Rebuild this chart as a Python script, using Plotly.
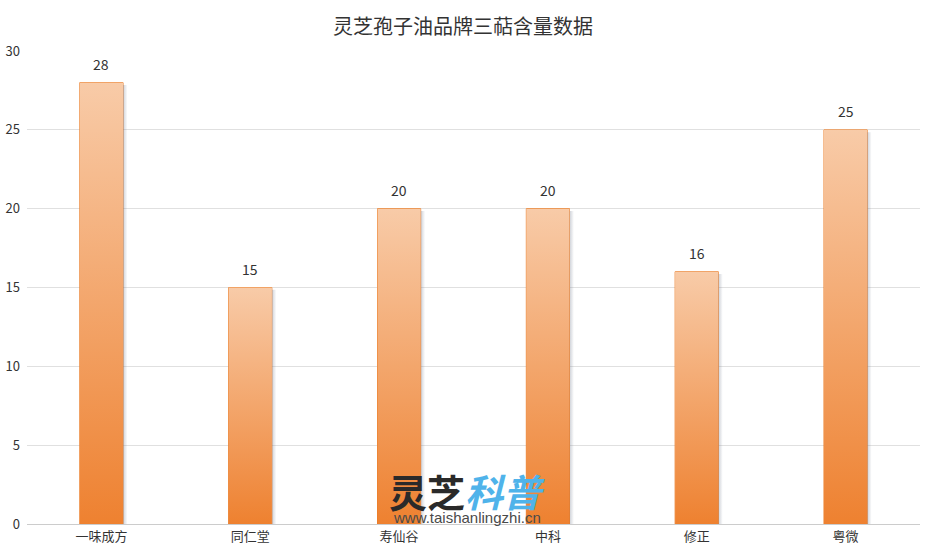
import plotly.graph_objects as go

categories = ["一味成方", "同仁堂", "寿仙谷", "中科", "修正", "粤微"]
values = [28, 15, 20, 20, 16, 25]
y_ticks = [0, 5, 10, 15, 20, 25, 30]

BAR_W = 0.29
TOP_C = "#f8cba8"
BOT_C = "#ee8130"
LINE_C = "#ea7a22"
FONT = "Noto Sans CJK SC, Microsoft YaHei, sans-serif"

W, H = 932, 555

fig = go.Figure()
idx = list(range(len(categories)))

# soft shadow on right side of each bar
for i, v in zip(idx, values):
    x0 = i + BAR_W / 2
    x1 = x0 + 0.03
    fig.add_trace(go.Scatter(
        x=[x0, x1, x1, x0, x0], y=[0, 0, v - 0.15, v - 0.15, 0],
        mode="lines", line=dict(width=0), fill="toself",
        fillgradient=dict(type="horizontal",
                          colorscale=[[0, "rgba(110,120,140,0.35)"], [1, "rgba(110,120,140,0)"]]),
        hoverinfo="skip", showlegend=False))

# gradient fill of each bar
for i, v in zip(idx, values):
    x0 = i - BAR_W / 2
    x1 = i + BAR_W / 2
    fig.add_trace(go.Scatter(
        x=[x0, x1, x1, x0, x0], y=[0, 0, v, v, 0],
        mode="lines", line=dict(width=0), fill="toself",
        fillgradient=dict(type="vertical", colorscale=[[0, BOT_C], [1, TOP_C]]),
        hoverinfo="skip", showlegend=False))

# bar outlines
fig.add_trace(go.Bar(
    x=idx, y=values, width=BAR_W,
    marker=dict(color="rgba(0,0,0,0)", line=dict(color=LINE_C, width=1)),
    hoverinfo="x+y", showlegend=False))

# value labels
for i, v in zip(idx, values):
    fig.add_annotation(x=i, y=v, text=str(v), showarrow=False, yanchor="middle",
                       yshift=19, font=dict(size=14, color="#333333", family=FONT))

fig.update_layout(
    width=W, height=H,
    margin=dict(l=27, r=12, t=51, b=31, autoexpand=False),
    paper_bgcolor="white", plot_bgcolor="white",
    title=dict(text="灵芝孢子油品牌三萜含量数据", x=463 / W, xanchor="center",
               y=1 - 27 / H, yanchor="middle",
               font=dict(size=20, color="#333333", family=FONT)),
    font=dict(family=FONT, color="#333333"),
    xaxis=dict(range=[-0.5, 5.5], tickmode="array", tickvals=idx, ticktext=categories,
               showgrid=False, zeroline=False, showline=True, linecolor="#cccccc",
               linewidth=1, ticks="", automargin=False,
               tickfont=dict(size=13, color="#333333")),
    yaxis=dict(range=[0, 30], tickmode="array", tickvals=y_ticks,
               showgrid=True, gridcolor="#e0e0e0", gridwidth=1, zeroline=False,
               showline=False, ticks="", ticklabelstandoff=6, automargin=False,
               tickfont=dict(size=13, color="#333333")),
    bargap=0.7,
)

# watermark
fig.add_annotation(
    xref="paper", yref="paper", x=0.4927, y=0.0698, xanchor="center", yanchor="middle",
    text="<b>灵芝</b><span style='color:#4fb3ea'><b><i>科普</i></b></span>",
    showarrow=False, font=dict(size=38, color="#2a2a2a", family=FONT))
fig.add_annotation(
    xref="paper", yref="paper", x=0.4927, y=0.014, xanchor="center", yanchor="middle",
    text="www.taishanlingzhi.cn", showarrow=False,
    font=dict(size=15, color="#4a4a4a", family="Arial, Liberation Sans, sans-serif"))

fig.write_html("out.html", config={"displayModeBar": False},
               post_script="document.body.style.margin='0';")
